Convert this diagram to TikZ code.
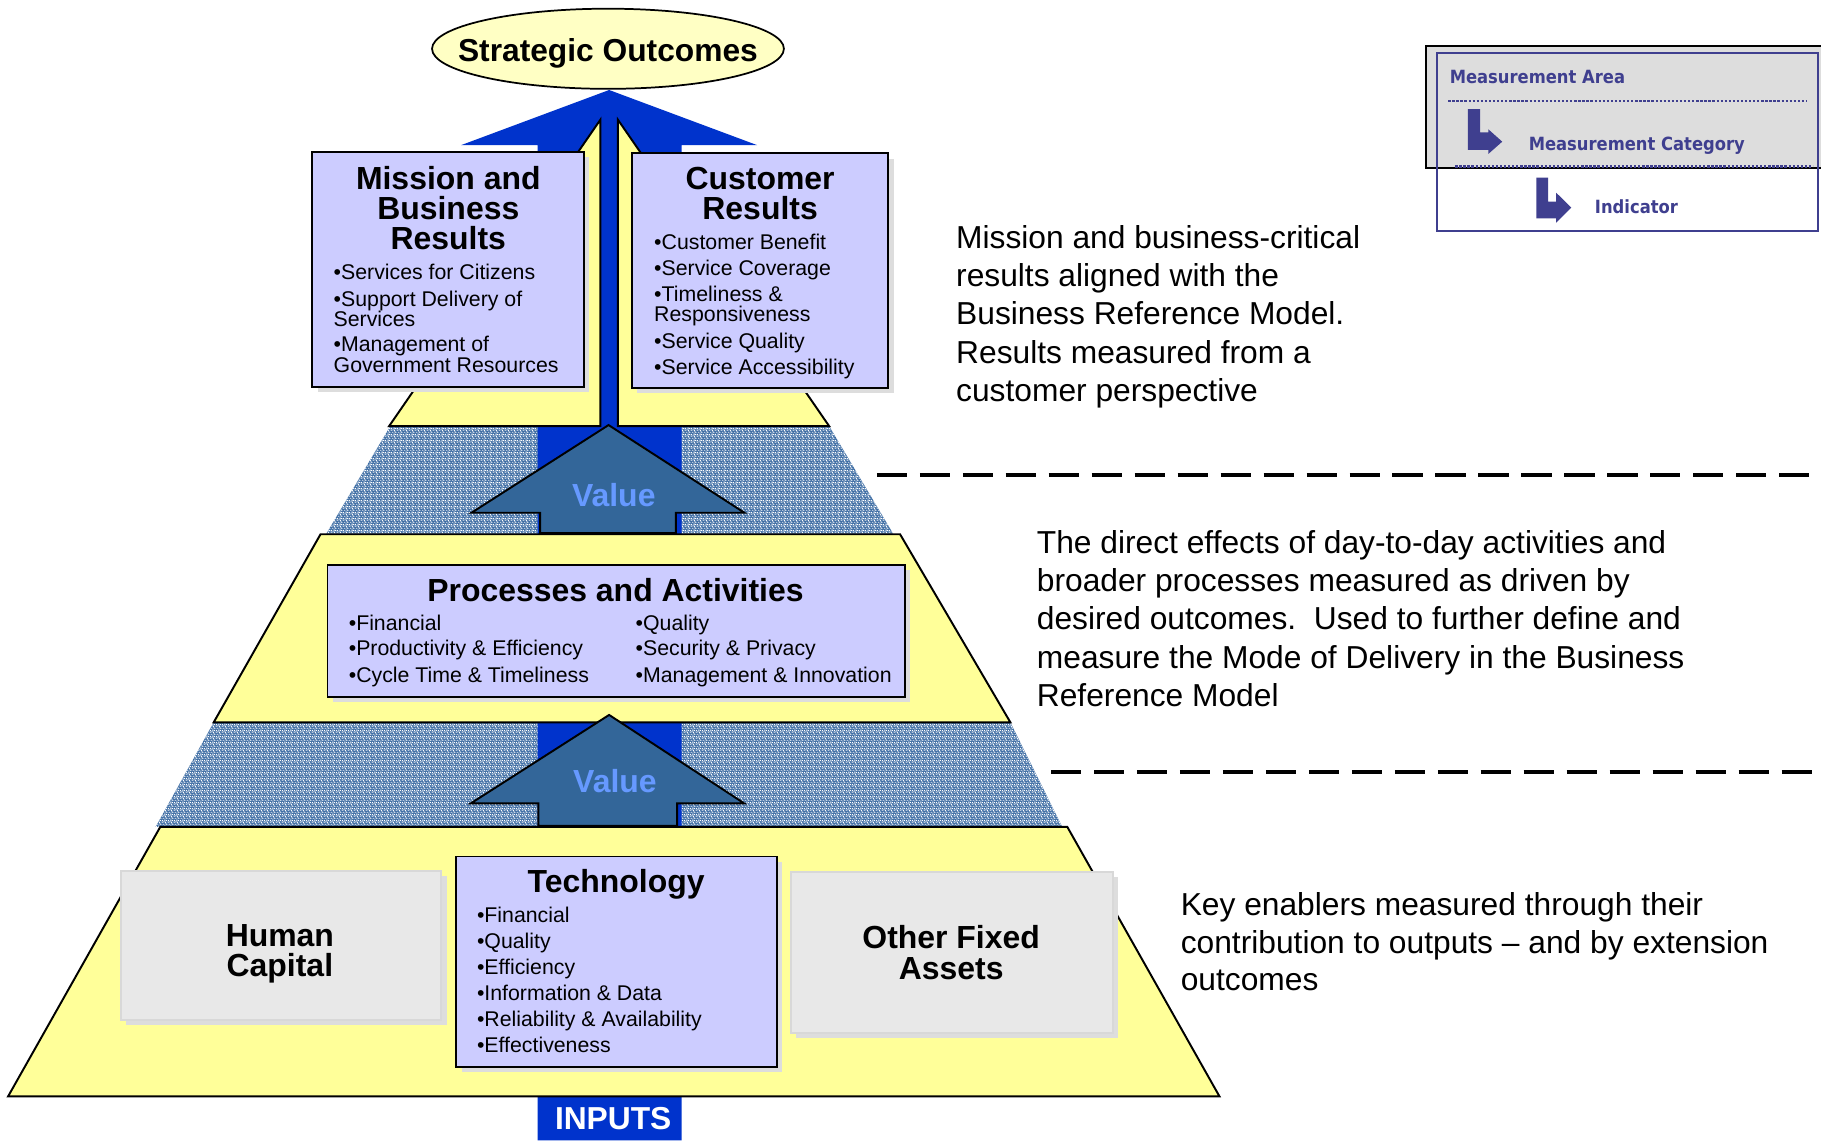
\documentclass[tikz,border=0pt]{standalone}
\usepackage{fontspec}
\setmainfont{Liberation Sans}
\newfontfamily\legendfont[FakeStretch=0.9]{DejaVu Sans}
\usetikzlibrary{shapes.geometric,patterns.meta}

\definecolor{tieryellow}{HTML}{FFFF99}
\definecolor{ellyellow}{HTML}{FFFFC4}
\definecolor{lav}{HTML}{CCCCFF}
\definecolor{bigblue}{HTML}{0033CC}
\definecolor{valblue}{HTML}{336699}
\definecolor{valtext}{HTML}{6699FF}
\definecolor{hatchbase}{HTML}{3A6AA2}
\definecolor{grayfill}{HTML}{E8E8E8}
\definecolor{grayborder}{HTML}{D8D8D8}
\definecolor{shadowgray}{HTML}{DDDDDD}
\definecolor{navy}{HTML}{3F3F8F}
\definecolor{leggray}{HTML}{DDDDDD}

\tikzdeclarepattern{
  name=speckle,
  type=uncolored,
  bottom left={(0pt,0pt)},
  top right={(3pt,3pt)},
  tile size={(3pt,3pt)},
  code={
    \fill (0pt,0pt) rectangle (0.6pt,0.6pt);
    \fill (1.2pt,0.2pt) rectangle (2.0pt,0.7pt);
    \fill (2.3pt,1.0pt) rectangle (2.9pt,1.7pt);
    \fill (0.4pt,1.2pt) rectangle (1.3pt,1.7pt);
    \fill (1.5pt,2.1pt) rectangle (2.1pt,2.8pt);
    \fill (0.1pt,2.3pt) rectangle (0.7pt,2.9pt);
    \fill (2.5pt,2.4pt) rectangle (3.0pt,2.9pt);
    \fill (1.9pt,1.3pt) rectangle (2.3pt,2.0pt);
    \fill (0.8pt,2.6pt) rectangle (1.4pt,3.0pt);
    \fill (2.2pt,0.0pt) rectangle (2.8pt,0.5pt);
  }
}

\begin{document}
\begin{tikzpicture}[x=0.6pt,y=-0.6pt,
  tier/.style={fill=tieryellow,draw=black,line width=1pt,line join=miter},
  band/.style={fill=hatchbase},
  bandtex/.style={pattern=speckle,pattern color=white},
  lavbox/.style={draw=black,fill=lav,line width=1pt,inner sep=0pt,
    preaction={fill=shadowgray,draw=none,transform canvas={xshift=2.7pt,yshift=-2.7pt}}},
  graybox/.style={draw=grayborder,fill=grayfill,line width=1pt,inner sep=0pt,
    preaction={fill=shadowgray,draw=none,transform canvas={xshift=2.7pt,yshift=-2.7pt}}},
  valarrow/.style={fill=valblue,draw=black,line width=1pt,line join=miter},
  titletxt/.style={font=\bfseries\fontsize{16.5}{16}\selectfont,anchor=base,inner sep=0pt},
  itemtxt/.style={font=\fontsize{11}{13}\selectfont,anchor=base west,inner sep=0pt},
  desctxt/.style={font=\fontsize{16.4}{19.8}\selectfont,anchor=base west,inner sep=0pt},
  legtxt/.style={font=\legendfont\bfseries\fontsize{9.4}{11}\selectfont,text=navy,anchor=base west,inner sep=0pt},
  valtxt/.style={font=\bfseries\fontsize{16.5}{18}\selectfont,text=valtext,anchor=base,inner sep=0pt},
  dashline/.style={draw=black,line width=2pt,dash pattern=on 15.6pt off 6.6pt},
  legdot/.style={draw=navy,line width=1.2pt,dash pattern=on 1.2pt off 0.9pt}
]
\fill[white] (0,0) rectangle (1568,982);
\useasboundingbox (0,0) rectangle (1568,982);

% textured bands
\fill[band] (336,367) -- (714,367) -- (769,459.5) -- (281,459.5) -- cycle;
\fill[bandtex] (336,367) -- (714,367) -- (769,459.5) -- (281,459.5) -- cycle;
\fill[band] (184,622) -- (870,622) -- (914.6,712) -- (134,712) -- cycle;
\fill[bandtex] (184,622) -- (870,622) -- (914.6,712) -- (134,712) -- cycle;

% big blue arrow
\fill[bigblue] (463,982) -- (463,125) -- (397,125) -- (524.5,77.5) -- (652,125) -- (587,125) -- (587,982) -- cycle;

% pyramid tiers
\filldraw[tier] (335,367) -- (517,103) -- (517,367) -- cycle;
\filldraw[tier] (532,103) -- (532,367) -- (714,367) -- cycle;
\filldraw[tier] (276,460) -- (775,460) -- (870,622) -- (184,622) -- cycle;
\filldraw[tier] (138,712) -- (919,712) -- (1050,944) -- (7,944) -- cycle;

% strategic outcomes
\node[ellipse,draw=black,fill=ellyellow,line width=0.9pt,minimum width=181.8pt,minimum height=41.4pt,inner sep=0pt] (so) at (523.5,42) {};
\node[titletxt,font=\bfseries\fontsize{16.4}{18}\selectfont] (sot) at (523.5,52.8) {Strategic Outcomes};

% value arrows
\filldraw[valarrow] (465,459) -- (465,441.5) -- (406,441.5) -- (524,366) -- (641,441.5) -- (582,441.5) -- (582,459) -- cycle;
\node[valtxt] (v1) at (528.5,435.8) {Value};
\filldraw[valarrow] (463.5,711) -- (463.5,691.7) -- (405.5,691.7) -- (524.5,615.6) -- (640.7,691.7) -- (583,691.7) -- (583,711) -- cycle;
\node[valtxt] (v2) at (529.5,682.8) {Value};

% INPUTS
\node[titletxt,font=\bfseries\fontsize{16.4}{18}\selectfont,text=white] (inp) at (528,972.8) {INPUTS};

% Mission and Business Results
\node[lavbox,minimum width=140.4pt,minimum height=121.2pt] (mbr) at (386,232) {};
\node[titletxt] (mbr1) at (386,163.3) {Mission and};
\node[titletxt] (mbr2) at (386,189.2) {Business};
\node[titletxt] (mbr3) at (386,215) {Results};
\node[itemtxt] (mbra) at (287,240.5) {•Services for Citizens};
\node[itemtxt] (mbrb) at (287,263.5) {•Support Delivery of};
\node[itemtxt] (mbrc) at (287,281.3) {Services};
\node[itemtxt] (mbrd) at (287,302.8) {•Management of};
\node[itemtxt] (mbre) at (287,320.9) {Government Resources};

% Customer Results
\node[lavbox,minimum width=132.6pt,minimum height=121.2pt] (cr) at (654.5,233) {};
\node[titletxt] (cr1) at (654.5,163.3) {Customer};
\node[titletxt] (cr2) at (654.5,189.2) {Results};
\node[itemtxt] (cra) at (563,214.6) {•Customer Benefit};
\node[itemtxt] (crb) at (563,237.1) {•Service Coverage};
\node[itemtxt] (crc) at (563,259.6) {•Timeliness \&};
\node[itemtxt] (crd) at (563,277.2) {Responsiveness};
\node[itemtxt] (cre) at (563,300.2) {•Service Quality};
\node[itemtxt] (crf) at (563,322.3) {•Service Accessibility};

% Processes and Activities
\node[lavbox,minimum width=298.2pt,minimum height=68.1pt] (pa) at (530.5,543.25) {};
\node[titletxt] (pat) at (530,517.8) {Processes and Activities};
\node[itemtxt] (paa) at (300,543.2) {•Financial};
\node[itemtxt] (pab) at (300,564.6) {•Productivity \& Efficiency};
\node[itemtxt] (pac) at (300,587.6) {•Cycle Time \& Timeliness};
\node[itemtxt] (pad) at (547,543.2) {•Quality};
\node[itemtxt] (pae) at (547,564.6) {•Security \& Privacy};
\node[itemtxt] (paf) at (547,587.6) {•Management \& Innovation};

% Human Capital
\node[graybox,minimum width=165.6pt,minimum height=76.8pt] (hc) at (242,814) {};
\node[titletxt] (hc1) at (241,814.8) {Human};
\node[titletxt] (hc2) at (241,840.8) {Capital};

% Technology
\node[lavbox,minimum width=165.6pt,minimum height=108.6pt] (tech) at (531,828) {};
\node[titletxt] (techt) at (530.5,768.8) {Technology};
\node[itemtxt] (techa) at (410.4,794.5) {•Financial};
\node[itemtxt] (techb) at (410.4,816.8) {•Quality};
\node[itemtxt] (techc) at (410.4,838.9) {•Efficiency};
\node[itemtxt] (techd) at (410.4,861.9) {•Information \& Data};
\node[itemtxt] (teche) at (410.4,884.3) {•Reliability \& Availability};
\node[itemtxt] (techf) at (410.4,906.4) {•Effectiveness};

% Other Fixed Assets
\node[graybox,minimum width=166.2pt,minimum height=83.2pt] (ofa) at (819.5,820.3) {};
\node[titletxt] (ofa1) at (819,816.8) {Other Fixed};
\node[titletxt] (ofa2) at (819,843.4) {Assets};

% dashed separators
\coordinate (d1a) at (755,409);
\coordinate (d1b) at (1568,409);
\coordinate (d2a) at (905,664.5);
\coordinate (d2b) at (1568,664.5);
\draw[dashline] (d1a) -- (d1b);
\draw[dashline] (d2a) -- (d2b);

% descriptions
\node[desctxt] (t1a) at (823,213.8) {Mission and business-critical};
\node[desctxt] (t1b) at (823,246.8) {results aligned with the};
\node[desctxt] (t1c) at (823,279.8) {Business Reference Model.};
\node[desctxt] (t1d) at (823,312.8) {Results measured from a};
\node[desctxt] (t1e) at (823,345.8) {customer perspective};

\node[desctxt] (t2a) at (892.5,476.2) {The direct effects of day-to-day activities and};
\node[desctxt] (t2b) at (892.5,509.2) {broader processes measured as driven by};
\node[desctxt] (t2c) at (892.5,542.2) {desired outcomes.\ \ Used to further define and};
\node[desctxt] (t2d) at (892.5,575.2) {measure the Mode of Delivery in the Business};
\node[desctxt] (t2e) at (892.5,608.2) {Reference Model};

\node[desctxt] (t3a) at (1016.4,788.3) {Key enablers measured through their};
\node[desctxt] (t3b) at (1016.4,820.8) {contribution to outputs – and by extension};
\node[desctxt] (t3c) at (1016.4,853.3) {outcomes};

% legend
\filldraw[fill=leggray,draw=black,line width=0.8pt] (1228,39.6) rectangle (1570,144.7);
\draw[draw=navy,line width=1.1pt] (1237,45.7) rectangle (1565.5,199);
\draw[legdot] (1247,86.7) -- (1556,86.7);
\draw[legdot] (1253,143.5) -- (1561,143.5);
\fill[navy] (1264,94) -- (1274.5,94) -- (1274.5,114) -- (1281.5,114) -- (1281.5,111.3) -- (1293.5,122) -- (1281.5,132.6) -- (1281.5,129) -- (1264,129) -- cycle;
\fill[navy] (1323,153) -- (1333,153) -- (1333,173.6) -- (1340,173.6) -- (1340,166) -- (1353,178.8) -- (1340,191.7) -- (1340,188) -- (1323,188) -- cycle;
\node[legtxt] (lma) at (1248,71.5) {Measurement Area};
\node[legtxt] (lmc) at (1316,129.7) {Measurement Category};
\node[legtxt] (lind) at (1373,184) {Indicator};
\end{tikzpicture}
\end{document}
